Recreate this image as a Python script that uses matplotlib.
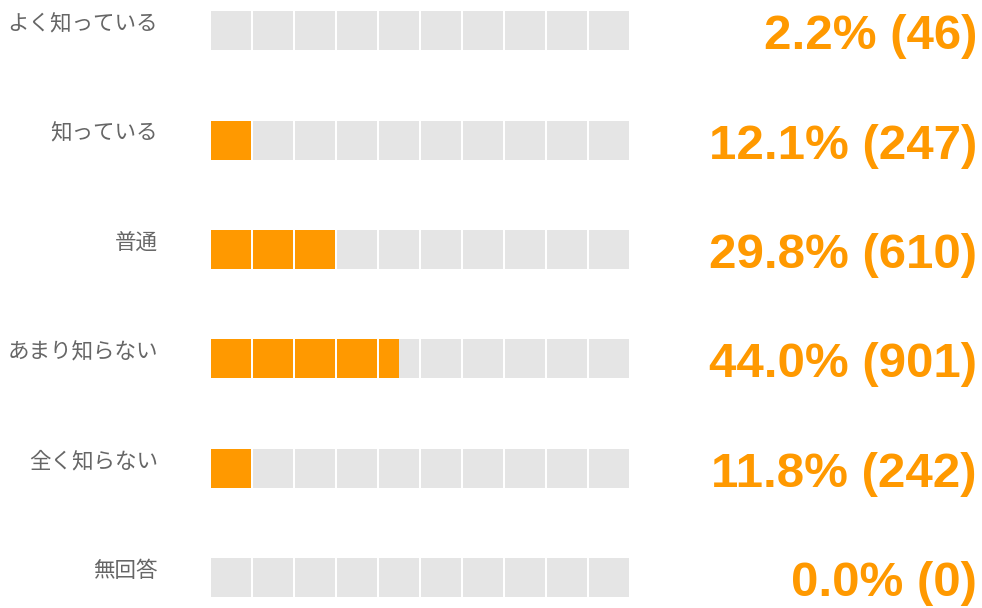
import numpy as np
import matplotlib.pyplot as plt

plt.rcParams['font.family'] = ['Noto Sans CJK JP', 'DejaVu Sans']

labels = ['よく知っている', '知っている', '普通', 'あまり知らない', '全く知らない', '無回答']
percents = [2.2, 12.1, 29.8, 44.0, 11.8, 0.0]
counts = [46, 247, 610, 901, 242, 0]

n_cells = 10
orange = '#FF9900'
grey = '#E5E5E5'

fig = plt.figure(figsize=(9.82, 6.08), dpi=100)
# axes spans the cell area horizontally (x in cell units), full height
ax = fig.add_axes([211 / 982, 0, 420 / 982, 1])
ax.set_xlim(0, n_cells)
ax.set_ylim((608 - 31) / 109.3, -31 / 109.3)
ax.axis('off')

cell_w = 39.5 / 42
bar_h = 39 / 109.3

for i, (lab, pct, cnt) in enumerate(zip(labels, percents, counts)):
    # filled cells rounded to the nearest half cell
    filled = np.round(pct / 10 * 2) / 2
    lefts = np.arange(n_cells)
    ax.barh([i] * n_cells, [cell_w] * n_cells, left=lefts, height=bar_h,
            color=grey, align='center')
    part = np.clip(filled - lefts, 0, 1) * cell_w
    ax.barh([i] * n_cells, part, left=lefts, height=bar_h,
            color=orange, align='center')

    ax.text(-53 / 42, i - 0.06, lab, ha='right', va='center',
            fontsize=15.5, color='#666666', clip_on=False)
    ax.text(766 / 42, i + 0.168, f'{pct:.1f}% ({cnt})', ha='right', va='baseline',
            fontsize=35.5, fontweight='bold', color=orange,
            family=['Liberation Sans', 'DejaVu Sans'], clip_on=False)

fig.savefig('out.png', dpi=100)
